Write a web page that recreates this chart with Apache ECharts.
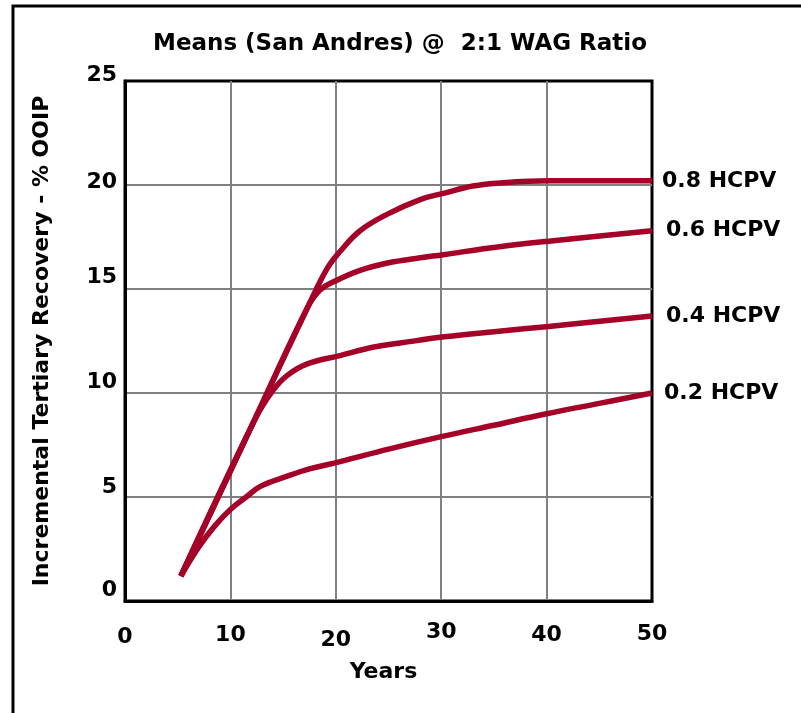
<!DOCTYPE html>
<html>
<head>
<meta charset="utf-8">
<script src="https://cdn.jsdelivr.net/npm/echarts@6/dist/echarts.min.js"></script>
<style>
html,body{margin:0;padding:0;background:#fff;}
#chart{width:801px;height:713px;}
</style>
</head>
<body>
<div id="chart"></div>
<script>
const titleText = 'Means (San Andres) @  2:1 WAG Ratio';
const xAxisName = 'Years';
const yAxisName = 'Incremental Tertiary Recovery - % OOIP';
const xTicks = [0, 10, 20, 30, 40, 50];
const yTicks = [0, 5, 10, 15, 20, 25];
const seriesNames = ['0.8 HCPV', '0.6 HCPV', '0.4 HCPV', '0.2 HCPV'];

const hcpv08X = [5.3, 12.1, 17.5, 19.2, 20.4, 22.3, 24.9, 28, 30.2, 33, 35.6, 40.3, 50];
const hcpv08Y = [1.2, 8.5, 14.3, 16.0, 16.8, 17.8, 18.6, 19.3, 19.6, 19.95, 20.1, 20.2, 20.2];

const hcpv06X = [5.3, 12.1, 17.3, 18.5, 20, 22.3, 24.9, 28, 30.2, 35, 40.2, 50];
const hcpv06Y = [1.2, 8.5, 14.1, 14.95, 15.4, 15.9, 16.25, 16.5, 16.65, 17.0, 17.3, 17.8];

const hcpv04X = [5.3, 12.3, 14, 15.4, 17.3, 20.4, 23.5, 26.1, 30.3, 35, 40.2, 50];
const hcpv04Y = [1.2, 8.7, 10.1, 10.85, 11.4, 11.8, 12.2, 12.4, 12.7, 12.95, 13.2, 13.7];

const hcpv02X = [5.3, 7, 8.5, 10, 11.5, 12.8, 15.4, 17.5, 20.4, 25, 30, 35, 40, 45, 50];
const hcpv02Y = [1.2, 2.6, 3.6, 4.4, 5.0, 5.5, 6.0, 6.35, 6.7, 7.3, 7.9, 8.45, 9.0, 9.5, 10.0];

const FONT = 'DejaVu Sans';
const LINE_COLOR = '#a50028';

function zip(xs, ys) { return xs.map((x, i) => [x, ys[i]]); }

// per-label vertical nudges to mimic the reference placement
const xLabelPad = {0: 5, 10: 3, 20: 8, 30: 0, 40: 3, 50: 2};
const yLabelPad = {0: 22, 5: 20, 10: 22, 15: 24, 20: 6, 25: 12};

const xRich = {};
xTicks.forEach(t => {
  xRich['x' + t] = {fontFamily: FONT, fontWeight: 'bold', fontSize: 22, color: '#000', padding: [xLabelPad[t], 0, 0, 0]};
});
const yRich = {};
yTicks.forEach(t => {
  yRich['y' + t] = {fontFamily: FONT, fontWeight: 'bold', fontSize: 22, color: '#000', padding: [0, 0, yLabelPad[t], 0]};
});

const seriesData = [zip(hcpv08X, hcpv08Y), zip(hcpv06X, hcpv06Y), zip(hcpv04X, hcpv04Y), zip(hcpv02X, hcpv02Y)];
const labelDist = [10, 14, 14, 12];

const chart = echarts.init(document.getElementById('chart'), null, {renderer: 'canvas'});
chart.setOption({
  animation: false,
  backgroundColor: '#fff',
  title: {
    text: titleText,
    left: 395, top: 28, textAlign: 'center',
    textStyle: {fontFamily: FONT, fontWeight: 'bold', fontSize: 23, color: '#000'}
  },
  graphic: [{
    type: 'rect', silent: true,
    shape: {x: 13, y: 6, width: 900, height: 900},
    style: {fill: 'none', stroke: '#000', lineWidth: 3}
  }],
  grid: {left: 125, right: 149, top: 81, bottom: 112, show: true, borderColor: '#000', borderWidth: 3, backgroundColor: 'transparent'},
  xAxis: {
    type: 'value', min: 0, max: 50, interval: 10,
    name: xAxisName, nameLocation: 'middle', nameGap: 60,
    nameTextStyle: {fontFamily: FONT, fontWeight: 'bold', fontSize: 22, color: '#000', padding: [0, 10, 0, 0]},
    axisLine: {show: true, lineStyle: {color: '#000', width: 3}},
    axisTick: {show: false},
    axisLabel: {margin: 20, formatter: v => '{x' + v + '|' + v + '}', rich: xRich},
    splitLine: {show: true, showMinLine: false, showMaxLine: false, lineStyle: {color: '#808080', width: 2}}
  },
  yAxis: {
    type: 'value', min: 0, max: 25, interval: 5,
    name: yAxisName, nameLocation: 'middle', nameGap: 72, nameRotate: 90,
    nameTextStyle: {fontFamily: FONT, fontWeight: 'bold', fontSize: 22, color: '#000'},
    axisLine: {show: true, lineStyle: {color: '#000', width: 3}},
    axisTick: {show: false},
    axisLabel: {margin: 8, formatter: v => '{y' + v + '|' + v + '}', rich: yRich},
    splitLine: {show: true, showMinLine: false, showMaxLine: false, lineStyle: {color: '#808080', width: 2}}
  },
  series: seriesNames.map((name, i) => ({
    name: name,
    type: 'line',
    data: seriesData[i],
    smooth: 0.4,
    showSymbol: false,
    lineStyle: {color: LINE_COLOR, width: 5.5, cap: 'butt'},
    itemStyle: {color: LINE_COLOR},
    endLabel: {
      show: true, formatter: name, distance: labelDist[i],
      fontFamily: FONT, fontWeight: 'bold', fontSize: 22, color: '#000'
    },
    z: 3
  }))
});
</script>
</body>
</html>
